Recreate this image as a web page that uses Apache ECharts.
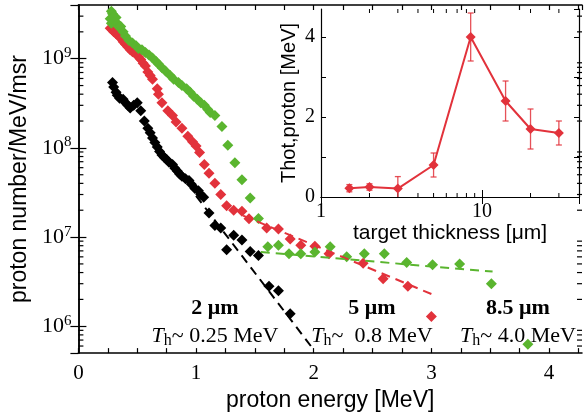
<!DOCTYPE html>
<html>
<head>
<meta charset="utf-8">
<script src="https://cdn.jsdelivr.net/npm/echarts@6/dist/echarts.min.js"></script>
<style>
  html, body { margin: 0; padding: 0; background: #fff; }
  #chart { width: 584px; height: 417px; }
</style>
</head>
<body>
<div id="chart"></div>
<script>
// Proton spectra [energy MeV, protons/MeV/msr] for three target thicknesses
const spectrum2um = [
  [0.29, 5.4e8], [0.30, 4.8e8], [0.32, 4.2e8], [0.33, 3.9e8], [0.35, 3.6e8], [0.38, 3.5e8],
  [0.40, 3.2e8], [0.42, 3.0e8], [0.44, 2.8e8], [0.47, 3.0e8], [0.50, 3.2e8], [0.53, 2.6e8],
  [0.56, 2.0e8], [0.59, 1.66e8], [0.61, 1.48e8], [0.63, 1.29e8], [0.65, 1.15e8], [0.67, 1.02e8],
  [0.69, 9.1e7], [0.71, 8.3e7], [0.73, 7.8e7], [0.75, 7.4e7], [0.77, 6.9e7], [0.80, 6.5e7],
  [0.82, 5.9e7], [0.84, 5.5e7], [0.86, 5.1e7], [0.88, 4.8e7], [0.91, 4.5e7], [0.94, 4.3e7],
  [0.96, 3.9e7], [0.99, 3.5e7], [1.02, 3.3e7], [1.04, 3.0e7], [1.065, 2.8e7], [1.11, 1.86e7],
  [1.16, 1.35e7], [1.21, 1.26e7], [1.26, 7.2e6], [1.32, 1.05e7], [1.39, 9.3e6], [1.46, 6.9e6],
  [1.53, 6.2e6], [1.62, 2.8e6], [1.70, 2.5e6], [1.80, 1.38e6]
];
const spectrum5um = [
  [0.27, 2.2e9], [0.29, 2.1e9], [0.30, 2.0e9], [0.32, 1.9e9], [0.34, 1.8e9], [0.36, 1.7e9],
  [0.38, 1.55e9], [0.40, 1.45e9], [0.42, 1.35e9], [0.44, 1.26e9], [0.46, 1.2e9], [0.49, 1.12e9],
  [0.51, 1.05e9], [0.53, 9.8e8], [0.55, 8.9e8], [0.57, 8.3e8], [0.59, 7.1e8], [0.61, 6.5e8],
  [0.63, 5.9e8], [0.67, 4.6e8], [0.68, 4.0e8], [0.71, 3.2e8], [0.76, 2.6e8], [0.80, 2.3e8],
  [0.83, 1.95e8], [0.88, 1.66e8], [0.93, 1.35e8], [0.97, 1.17e8], [1.00, 1.05e8], [1.03, 8.9e7],
  [1.07, 6.5e7], [1.11, 5.2e7], [1.16, 4.0e7], [1.21, 3.0e7], [1.26, 2.24e7], [1.32, 2.0e7],
  [1.39, 1.95e7], [1.45, 1.6e7], [1.60, 1.26e7], [1.70, 1.23e7], [1.80, 9.5e6], [1.89, 8.1e6],
  [2.01, 7.9e6], [2.13, 6.5e6], [2.42, 5.1e6], [2.59, 3.4e6], [2.80, 2.8e6], [3.00, 1.29e6]
];
const spectrum85um = [
  [0.28, 3.4e9], [0.29, 3.2e9], [0.27, 2.8e9], [0.28, 2.5e9], [0.30, 3.0e9], [0.32, 2.9e9],
  [0.33, 2.5e9], [0.34, 2.3e9], [0.36, 2.3e9], [0.38, 2.0e9], [0.40, 1.8e9], [0.43, 1.6e9],
  [0.46, 1.5e9], [0.49, 1.4e9], [0.51, 1.3e9], [0.54, 1.26e9], [0.57, 1.17e9], [0.60, 1.1e9],
  [0.63, 1.02e9], [0.66, 9.3e8], [0.68, 8.7e8], [0.71, 7.9e8], [0.74, 7.3e8], [0.78, 6.5e8],
  [0.81, 5.9e8], [0.85, 5.4e8], [0.88, 5.0e8], [0.92, 4.6e8], [0.95, 4.2e8], [0.98, 3.8e8],
  [1.01, 3.5e8], [1.04, 3.2e8], [1.07, 3.0e8], [1.10, 2.7e8], [1.12, 2.5e8], [1.16, 2.3e8],
  [1.22, 1.74e8], [1.27, 1.07e8], [1.33, 6.8e7], [1.39, 4.4e7], [1.46, 2.75e7], [1.53, 1.62e7],
  [1.61, 7.8e6], [1.70, 8.1e6], [1.79, 6.5e6], [1.89, 6.5e6], [2.01, 6.8e6], [2.14, 7.8e6],
  [2.28, 6.0e6], [2.43, 6.5e6], [2.60, 6.5e6], [2.79, 5.2e6], [3.01, 4.9e6], [3.24, 5.0e6],
  [3.51, 3.0e6], [3.82, 6.3e5]
];
// Exponential fits (straight lines on the log axis)
const fit2um = [[1.0, 2.9e7], [1.98, 5.9e5]];
const fit5um = [[1.4, 1.74e7], [3.0, 2.3e6]];
const fit85um = [[1.55, 6.8e6], [3.52, 4.1e6]];

// Hot-proton temperature against target thickness (inset)
const thickness = [1.5, 2, 3, 5, 8.5, 14, 20, 30];
const tHot = [0.22, 0.25, 0.21, 0.8, 4.0, 2.4, 1.7, 1.6];
const tHotErr = [0.09, 0.08, 0.3, 0.3, 0.6, 0.5, 0.5, 0.3];

// Annotation texts
const thicknessLabels = ['2 μm', '5 μm', '8.5 μm'];
const tempLabels = ['~ 0.25 MeV', '~  0.8 MeV', '~ 4.0 MeV'];

const SERIF = '"Liberation Serif", "DejaVu Serif", serif';
const SANS = '"Liberation Sans", Arial, sans-serif';
const RED = '#e2323b';
const GREEN = '#5ab52f';
const BLACK = '#000000';
const E_MAX = 4.28;
const N_MIN = 5e5, N_MAX = 4e9;
const T_MAX = 4.7;
const D_MIN = 1, D_MAX = 40;

// minor tick values for the log axes
const minorY = [];
for (let d = 5; d <= 9; d++) {
  for (let m = 2; m <= 9; m++) {
    const v = m * Math.pow(10, d);
    if (v > N_MIN && v < N_MAX) minorY.push([0, v]);
  }
}
const minorD = [];
for (let d = 0; d <= 1; d++) {
  for (let m = 2; m <= 9; m++) {
    const v = m * Math.pow(10, d);
    if (v > D_MIN && v < D_MAX) minorD.push([v, 0]);
  }
}

const chart = echarts.init(document.getElementById('chart'), null, { renderer: 'canvas' });

function isPow10(v) {
  const l = Math.log10(v);
  return Math.abs(l - Math.round(l)) < 1e-6;
}

const frame = { lineStyle: { color: '#000', width: 1.5 } };
const insetFrame = { lineStyle: { color: '#000', width: 1.2 } };

function yMinorTicks(params, api) {
  const v = api.value(1);
  const l = api.coord([0, v]);
  const r = api.coord([E_MAX, v]);
  const st = { stroke: '#000', lineWidth: 1.2 };
  return { type: 'group', children: [
    { type: 'line', shape: { x1: l[0], y1: l[1], x2: l[0] + 5, y2: l[1] }, style: st },
    { type: 'line', shape: { x1: r[0], y1: r[1], x2: r[0] - 5, y2: r[1] }, style: st }
  ]};
}
function dMinorTicks(params, api) {
  const v = api.value(0);
  const b = api.coord([v, 0]);
  const t = api.coord([v, T_MAX]);
  const st = { stroke: '#000', lineWidth: 1 };
  return { type: 'group', children: [
    { type: 'line', shape: { x1: b[0], y1: b[1], x2: b[0], y2: b[1] - 4 }, style: st },
    { type: 'line', shape: { x1: t[0], y1: t[1], x2: t[0], y2: t[1] + 4 }, style: st }
  ]};
}
function errorBars(params, api) {
  const x = api.value(0), y = api.value(1), e = api.value(2);
  const hi = api.coord([x, y + e]);
  const lo = api.coord([x, y - e]);
  const st = { stroke: RED, lineWidth: 1.3, opacity: 0.85 };
  return { type: 'group', children: [
    { type: 'line', shape: { x1: hi[0], y1: hi[1], x2: lo[0], y2: lo[1] }, style: st },
    { type: 'line', shape: { x1: hi[0] - 3, y1: hi[1], x2: hi[0] + 3, y2: hi[1] }, style: st },
    { type: 'line', shape: { x1: lo[0] - 3, y1: lo[1], x2: lo[0] + 3, y2: lo[1] }, style: st }
  ]};
}

const scatter = (data, color) => ({
  type: 'scatter', xAxisIndex: 0, yAxisIndex: 0, data,
  symbol: 'diamond', symbolSize: [11, 11],
  itemStyle: { color, opacity: 1 }, silent: true
});
const fitLine = (data, color) => ({
  type: 'line', xAxisIndex: 0, yAxisIndex: 0, data,
  showSymbol: false, silent: true,
  lineStyle: { color, width: 2, type: [9, 6] }
});

const annotation = [];
const annX = [215, 372, 518];
thicknessLabels.forEach((t, i) => {
  annotation.push({
    type: 'text', x: annX[i], y: 308,
    style: { text: t, align: 'center', verticalAlign: 'middle',
      font: 'bold 22px ' + SERIF, fill: '#000' }
  });
  annotation.push({
    type: 'text', x: annX[i], y: 336,
    style: {
      text: '{i|T}{s|h}{n|' + tempLabels[i] + '}',
      align: 'center', verticalAlign: 'middle',
      rich: {
        i: { fontFamily: SERIF, fontSize: 22, fontStyle: 'italic', fill: '#000' },
        s: { fontFamily: SERIF, fontSize: 16, fill: '#000', padding: [10, 0, 0, 0] },
        n: { fontFamily: SERIF, fontSize: 22, fill: '#000' }
      }
    }
  });
});

const option = {
  animation: false,
  backgroundColor: '#fff',
  grid: [
    { left: 76, right: 2, top: 5, bottom: 60 },
    { left: 321, right: 5, top: 9, bottom: 220, show: true, backgroundColor: '#fff', borderWidth: 0 }
  ],
  xAxis: [
    {
      gridIndex: 0, type: 'value', min: 0, max: E_MAX, interval: 0.25, position: 'bottom',
      axisLine: frame, splitLine: { show: false },
      axisTick: { inside: true, length: 5, lineStyle: { color: '#000', width: 1.2 } },
      axisLabel: {
        formatter: v => (Math.abs(v - Math.round(v)) < 1e-9 ? String(Math.round(v)) : ''),
        showMaxLabel: false, fontFamily: SERIF, fontSize: 21, color: '#000', margin: 10
      },
      name: 'proton energy [MeV]', nameLocation: 'middle', nameGap: 35,
      nameTextStyle: { fontFamily: SANS, fontSize: 23, color: '#000' }
    },
    {
      gridIndex: 0, type: 'value', min: 0, max: E_MAX, interval: 0.25, position: 'top',
      axisLine: frame, splitLine: { show: false },
      axisTick: { inside: true, length: 5, lineStyle: { color: '#000', width: 1.2 } },
      axisLabel: { show: false }
    },
    {
      gridIndex: 1, type: 'log', logBase: 10, min: D_MIN, max: D_MAX, position: 'bottom',
      axisLine: insetFrame, splitLine: { show: false },
      axisTick: { inside: true, length: 7, lineStyle: { color: '#000', width: 1 } },
      axisLabel: {
        formatter: v => (isPow10(v) ? String(Math.round(v)) : ''),
        showMaxLabel: false, fontFamily: SERIF, fontSize: 20, color: '#000', margin: 5
      },
      name: 'target thickness [μm]', nameLocation: 'middle', nameGap: 20,
      nameTextStyle: { fontFamily: SANS, fontSize: 21, color: '#000' }
    },
    {
      gridIndex: 1, type: 'log', logBase: 10, min: D_MIN, max: D_MAX, position: 'top',
      axisLine: insetFrame, splitLine: { show: false },
      axisTick: { inside: true, length: 7, lineStyle: { color: '#000', width: 1 } },
      axisLabel: { show: false }
    }
  ],
  yAxis: [
    {
      gridIndex: 0, type: 'log', logBase: 10, min: N_MIN, max: N_MAX, position: 'left',
      axisLine: frame, splitLine: { show: false },
      axisTick: { inside: true, length: 8, lineStyle: { color: '#000', width: 1.2 } },
      axisLabel: {
        formatter: v => (isPow10(v) ? '{b|10}{s|' + Math.round(Math.log10(v)) + '}' : ''),
        showMinLabel: false, showMaxLabel: false, margin: 7,
        rich: {
          b: { fontFamily: SERIF, fontSize: 22, color: '#000' },
          s: { fontFamily: SERIF, fontSize: 15, color: '#000', padding: [0, 0, 11, 0] }
        }
      },
      name: 'proton number/MeV/msr', nameLocation: 'middle', nameGap: 44,
      nameTextStyle: { fontFamily: SANS, fontSize: 23, color: '#000' }
    },
    {
      gridIndex: 0, type: 'log', logBase: 10, min: N_MIN, max: N_MAX, position: 'right',
      axisLine: frame, splitLine: { show: false },
      axisTick: { inside: true, length: 8, lineStyle: { color: '#000', width: 1.2 } },
      axisLabel: { show: false }
    },
    {
      gridIndex: 1, type: 'value', min: 0, max: T_MAX, interval: 1, position: 'left',
      axisLine: insetFrame, splitLine: { show: false },
      axisTick: { inside: true, length: 5, lineStyle: { color: '#000', width: 1 } },
      axisLabel: {
        formatter: v => (v % 2 === 0 ? String(v) : ''),
        showMaxLabel: false, fontFamily: SERIF, fontSize: 20, color: '#000', margin: 6
      },
      name: 'Thot,proton [MeV]', nameLocation: 'middle', nameGap: 22,
      nameTextStyle: { fontFamily: SANS, fontSize: 20, color: '#000' }
    },
    {
      gridIndex: 1, type: 'value', min: 0, max: T_MAX, interval: 1, position: 'right',
      axisLine: insetFrame, splitLine: { show: false },
      axisTick: { inside: true, length: 5, lineStyle: { color: '#000', width: 1 } },
      axisLabel: { show: false }
    }
  ],
  series: [
    fitLine(fit2um, BLACK),
    fitLine(fit5um, RED),
    fitLine(fit85um, GREEN),
    scatter(spectrum2um, BLACK),
    scatter(spectrum5um, RED),
    scatter(spectrum85um, GREEN),
    {
      type: 'custom', xAxisIndex: 0, yAxisIndex: 0, data: minorY,
      renderItem: yMinorTicks, clip: false, silent: true
    },
    {
      type: 'custom', xAxisIndex: 2, yAxisIndex: 2, data: minorD,
      renderItem: dMinorTicks, clip: false, silent: true
    },
    {
      type: 'custom', xAxisIndex: 2, yAxisIndex: 2,
      data: thickness.map((t, i) => [t, tHot[i], tHotErr[i]]),
      renderItem: errorBars, clip: true, silent: true, z: 3
    },
    {
      type: 'line', xAxisIndex: 2, yAxisIndex: 2,
      data: thickness.map((t, i) => [t, tHot[i]]),
      symbol: 'diamond', symbolSize: 10, showSymbol: true, silent: true, z: 4,
      lineStyle: { color: RED, width: 2 }, itemStyle: { color: RED }
    }
  ],
  graphic: annotation
};
chart.setOption(option);
</script>
</body>
</html>
